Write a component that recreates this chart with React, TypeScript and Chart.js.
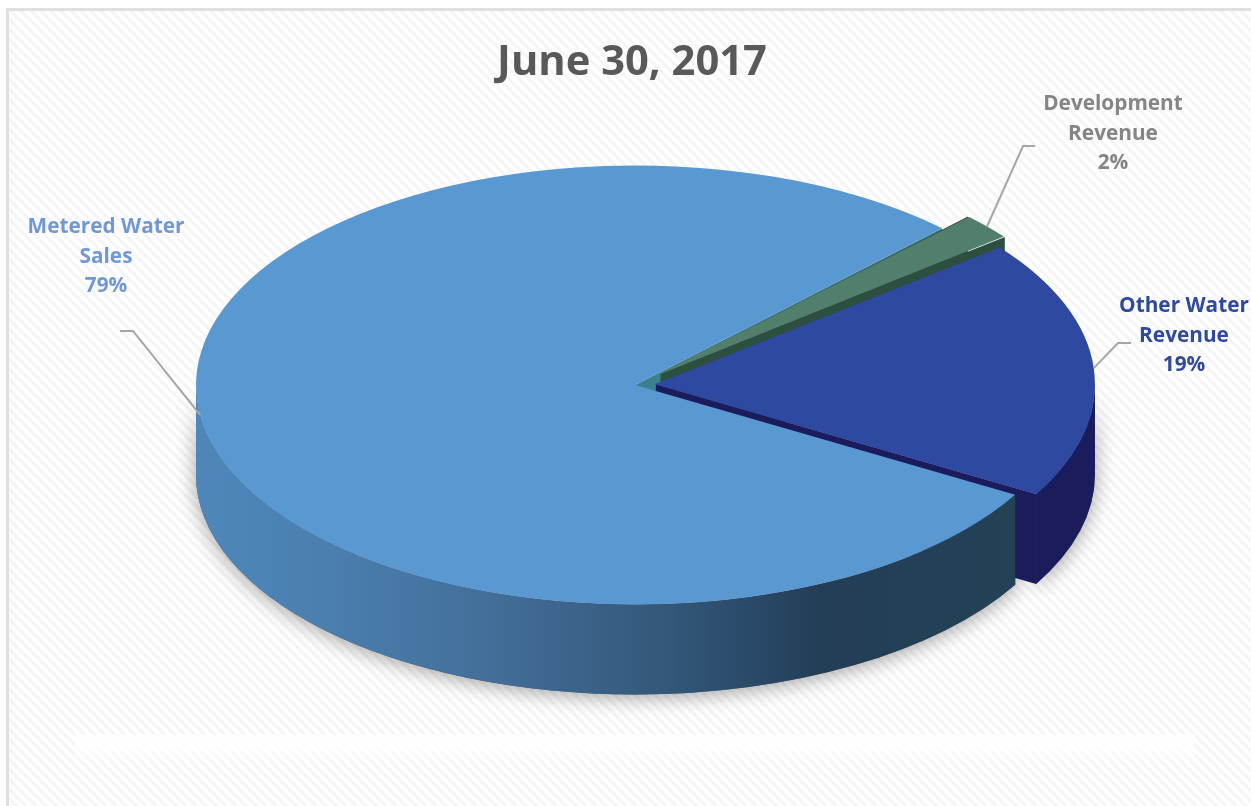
import React, { useEffect, useRef } from "react";
import { Chart, registerables } from "chart.js";

Chart.register(...registerables);

const chartTitle = "June 30, 2017";
const categories = ["Metered Water Sales", "Development Revenue", "Other Water Revenue"];
const shares = [79, 2, 19];
const labelLines = [["Metered Water", "Sales"], ["Development", "Revenue"], ["Other Water", "Revenue"]];
const topColors = ["#5a98d2", "#527f6b", "#2f49a1"];
const wallColors = ["#3f7ba8", "#2d4f40", "#1a1c5c"];
const faceColors = ["#3c7f8e", "#2d4f40", "#1a1c5c"];
const labelColors = ["#7198d2", "#858585", "#2f4a9c"];

const W = 1251;
const H = 806;
const PIE_CX = 635;
const PIE_CY = 385;
const SQUASH = 0.5;
const DEPTH = 90;
const RADIUS = 439;

const labelPlace = [
  { x: 106, y: 227, elbow: [133, 331], end: [120, 331] },
  { x: 1113, y: 104, elbow: [1023, 146], end: [1035, 146] },
  { x: 1184, y: 306, elbow: [1118, 343], end: [1131, 343] },
];

function arcShift(arc: any) {
  const off = (arc.options.offset || 0) / 4;
  const fix = 1 - Math.sin(Math.min(Math.PI, arc.circumference || 0));
  const eff = off * (1 + fix);
  const half = (arc.startAngle + arc.endAngle) / 2;
  return { dx: Math.cos(half) * eff, dy: Math.sin(half) * eff * SQUASH };
}

function outerWalls(ctx: CanvasRenderingContext2D, arc: any) {
  const { dx, dy } = arcShift(arc);
  const cx = PIE_CX + dx;
  const cy = PIE_CY + dy;
  const r = arc.outerRadius;
  const paths: Path2D[] = [];
  for (let k = 0; k < 2; k++) {
    const lo = Math.max(arc.startAngle, k * 2 * Math.PI);
    const hi = Math.min(arc.endAngle, k * 2 * Math.PI + Math.PI);
    if (hi <= lo) continue;
    const p = new Path2D();
    p.ellipse(cx, cy, r, r * SQUASH, 0, lo, hi);
    p.ellipse(cx, cy + DEPTH, r, r * SQUASH, 0, hi, lo, true);
    p.closePath();
    paths.push(p);
  }
  return paths;
}

function cutFace(ctx: CanvasRenderingContext2D, arc: any, angle: number) {
  const { dx, dy } = arcShift(arc);
  const cx = PIE_CX + dx;
  const cy = PIE_CY + dy;
  const r = arc.outerRadius;
  const ex = cx + Math.cos(angle) * r;
  const ey = cy + Math.sin(angle) * r * SQUASH;
  ctx.beginPath();
  ctx.moveTo(cx, cy);
  ctx.lineTo(ex, ey);
  ctx.lineTo(ex, ey + DEPTH);
  ctx.lineTo(cx, cy + DEPTH);
  ctx.closePath();
  ctx.fill();
}

function makeHatch() {
  const size = 10;
  const c = document.createElement("canvas");
  c.width = size;
  c.height = size;
  const g = c.getContext("2d")!;
  g.fillStyle = "#ffffff";
  g.fillRect(0, 0, size, size);
  g.strokeStyle = "#f5f5f5";
  g.lineWidth = 3.2;
  for (const o of [-size, 0, size]) {
    g.beginPath();
    g.moveTo(o - 2, -2);
    g.lineTo(o + size + 2, size + 2);
    g.stroke();
  }
  return c;
}

const scenePlugin = {
  id: "scene",
  beforeDraw(chart: any) {
    const ctx: CanvasRenderingContext2D = chart.ctx;
    ctx.save();
    ctx.fillStyle = "#ffffff";
    ctx.fillRect(0, 0, W, H);
    ctx.fillStyle = ctx.createPattern(makeHatch(), "repeat")!;
    ctx.fillRect(8, 10, W - 8, H - 10);
    // pale band below the pie
    const band = ctx.createLinearGradient(0, 733, 0, 765);
    band.addColorStop(0, "rgba(255,255,255,0)");
    band.addColorStop(0.12, "rgba(255,255,255,1)");
    band.addColorStop(0.45, "rgba(255,255,255,0.75)");
    band.addColorStop(1, "rgba(255,255,255,0)");
    ctx.fillStyle = band;
    ctx.fillRect(75, 733, 1120, 32);
    // frame
    ctx.fillStyle = "#e0e0e0";
    ctx.fillRect(6, 8, 3, H - 8);
    ctx.fillRect(6, 8, W - 6, 3);
    ctx.restore();
  },
  beforeDatasetsDraw(chart: any) {
    const ctx: CanvasRenderingContext2D = chart.ctx;
    const arcs = chart.getDatasetMeta(0).data;
    ctx.save();
    // soft shadow round the lower rim
    ctx.save();
    ctx.shadowColor = "rgba(0,0,0,0.36)";
    ctx.shadowBlur = 20;
    ctx.shadowOffsetY = 3;
    ctx.fillStyle = "#555";
    arcs.forEach((arc: any) => outerWalls(ctx, arc).forEach((p) => ctx.fill(p)));
    ctx.restore();
    // cut faces of the big slice sit beneath everything
    ctx.fillStyle = faceColors[0];
    cutFace(ctx, arcs[0], arcs[0].startAngle);
    cutFace(ctx, arcs[0], arcs[0].endAngle);
    // small slices
    [1, 2].forEach((i) => {
      const arc = arcs[i];
      ctx.fillStyle = faceColors[i];
      cutFace(ctx, arc, arc.startAngle);
      cutFace(ctx, arc, arc.endAngle);
      ctx.fillStyle = wallColors[i];
      outerWalls(ctx, arc).forEach((p) => ctx.fill(p));
    });
    // the big slice's rim, shaded from left to right
    const grad = ctx.createLinearGradient(196, 0, 1014, 0);
    grad.addColorStop(0, "#4f87bb");
    grad.addColorStop(0.17, "#4a7eae");
    grad.addColorStop(0.35, "#436f9a");
    grad.addColorStop(0.55, "#365a7e");
    grad.addColorStop(0.68, "#2a4a68");
    grad.addColorStop(0.76, "#233e57");
    grad.addColorStop(1, "#234256");
    ctx.fillStyle = grad;
    outerWalls(ctx, arcs[0]).forEach((p) => ctx.fill(p));
    ctx.restore();
    // squash the library's round pie into the tilted top face
    ctx.save();
    const a = arcs[0];
    ctx.translate(PIE_CX, PIE_CY);
    ctx.scale(1, SQUASH);
    ctx.translate(-a.x, -a.y);
  },
  afterDatasetsDraw(chart: any) {
    const ctx: CanvasRenderingContext2D = chart.ctx;
    ctx.restore();
    const arcs = chart.getDatasetMeta(0).data;
    ctx.save();
    ctx.textAlign = "center";
    ctx.textBaseline = "middle";
    ctx.font = "bold 20.8px 'Open Sans'";
    arcs.forEach((arc: any, i: number) => {
      const place = labelPlace[i];
      const { dx, dy } = arcShift(arc);
      const mid = (arc.startAngle + arc.endAngle) / 2;
      const ax = PIE_CX + dx + Math.cos(mid) * arc.outerRadius;
      const ay = PIE_CY + dy + Math.sin(mid) * arc.outerRadius * SQUASH;
      ctx.strokeStyle = "#a6a6a6";
      ctx.lineWidth = 2;
      ctx.beginPath();
      ctx.moveTo(ax, ay);
      ctx.lineTo(place.elbow[0], place.elbow[1]);
      ctx.lineTo(place.end[0], place.end[1]);
      ctx.stroke();
      ctx.fillStyle = labelColors[i];
      const lines = [...labelLines[i], `${shares[i]}%`];
      lines.forEach((t, n) => ctx.fillText(t, place.x, place.y + n * 29.7));
    });
    ctx.restore();
  },
};

export default function App() {
  const ref = useRef<HTMLCanvasElement>(null);
  useEffect(() => {
    const chart = new Chart(ref.current!, {
      type: "pie",
      data: {
        labels: categories,
        datasets: [
          {
            data: shares,
            backgroundColor: topColors,
            borderWidth: 0,
            offset: [0, 74, 78.5],
            clip: false,
          } as any,
        ],
      },
      options: {
        animation: false,
        responsive: false,
        devicePixelRatio: 1,
        events: [],
        rotation: 120,
        radius: RADIUS,
        layout: { padding: { left: 13, right: 0, top: 0, bottom: 0 } },
        plugins: {
          legend: { display: false },
          tooltip: { enabled: false },
          title: {
            display: true,
            text: chartTitle,
            color: "#595959",
            font: { family: "Open Sans", size: 41.7, weight: "bold" },
            padding: { top: 38, bottom: 10 },
          },
        },
      } as any,
      plugins: [scenePlugin],
    });
    return () => chart.destroy();
  }, []);
  return (
    <canvas
      ref={ref}
      width={W}
      height={H}
      style={{ position: "absolute", left: 0, top: 0, display: "block" }}
    />
  );
}
